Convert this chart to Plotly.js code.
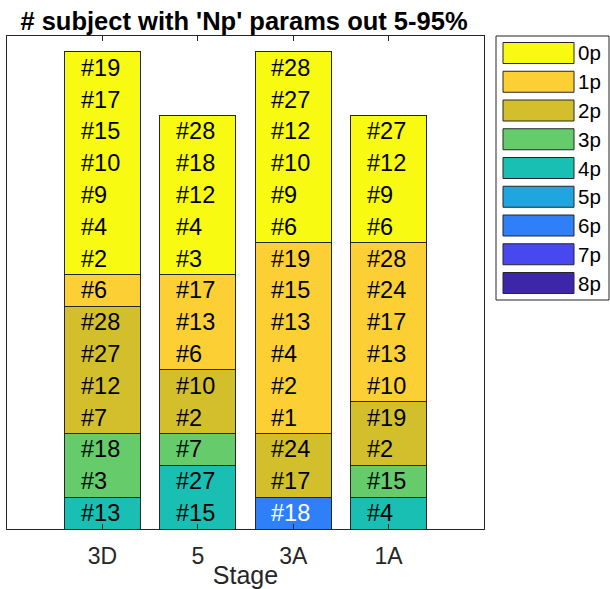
<!DOCTYPE html>
<html>
<head>
<meta charset="utf-8">
<script src="https://cdn.plot.ly/plotly-3.0.1.min.js"></script>
<style>html,body{margin:0;padding:0;background:#fff;}#chart{width:610px;height:589px;}</style>
</head>
<body>
<div id="chart"></div>
<script>
// ---- data ----
const categories = ['3D', '5', '3A', '1A'];
const levels = ['0p', '1p', '2p', '3p', '4p', '5p', '6p', '7p', '8p'];
const levelColors = ['#f9fa12', '#fccf35', '#d2bf2b', '#66cc6b', '#1abfb4', '#1fa6e0', '#2f7ff9', '#4848f0', '#3d27a8'];
// subject IDs per level, one list per category (3D, 5, 3A, 1A)
const subj0p = [[2, 4, 9, 10, 15, 17, 19], [3, 4, 12, 18, 28], [6, 9, 10, 12, 27, 28], [6, 9, 12, 27]];
const subj1p = [[6], [6, 13, 17], [1, 2, 4, 13, 15, 19], [10, 13, 17, 24, 28]];
const subj2p = [[7, 12, 27, 28], [2, 10], [17, 24], [2, 19]];
const subj3p = [[3, 18], [7], [], [15]];
const subj4p = [[13], [15, 27], [], [4]];
const subj5p = [[], [], [], []];
const subj6p = [[], [], [18], []];
const subj7p = [[], [], [], []];
const subj8p = [[], [], [], []];
const subjects = [subj0p, subj1p, subj2p, subj3p, subj4p, subj5p, subj6p, subj7p, subj8p];

// ---- layout constants ----
const FONT = 'Liberation Sans, Arial, Helvetica, sans-serif';
const W = 610, H = 589;
const M = {l: 7, r: 126, t: 36, b: 60};
const PW = W - M.l - M.r, PH = H - M.t - M.b;
const px2x = p => (p - M.l) / PW;
const py2y = p => (H - M.b - p) / PH;
const EDGE = '#262626';

const xs = categories.map((c, i) => i + 1);
const traces = [];
const annotations = [];
const base = categories.map(() => 0);

// stack from the highest level (bottom) to 0p (top)
for (let L = levels.length - 1; L >= 0; L--) {
  const counts = subjects[L].map(a => a.length);
  traces.push({
    type: 'bar', x: xs, y: counts, name: levels[L], width: 0.8,
    marker: {color: levelColors[L], line: {color: EDGE, width: 1}},
    showlegend: false, hoverinfo: 'skip'
  });
  subjects[L].forEach((ids, ci) => {
    ids.forEach((id, k) => {
      annotations.push({
        x: xs[ci] - 0.25, y: base[ci] + k + 0.5, xref: 'x', yref: 'y',
        text: '#' + id, showarrow: false, xanchor: 'left', yanchor: 'middle',
        font: {family: FONT, size: 23.5, color: L >= 6 ? '#ffffff' : '#000000'}
      });
    });
    base[ci] += ids.length;
  });
}

// custom legend (large swatches as in reference)
const shapes = [];
shapes.push({type: 'rect', xref: 'paper', yref: 'paper',
  x0: px2x(496), x1: px2x(609), y0: py2y(300), y1: py2y(36),
  line: {color: '#262626', width: 1}, fillcolor: '#ffffff'});
levels.forEach((lv, k) => {
  const cy = 53 + 28.75 * k;
  shapes.push({type: 'rect', xref: 'paper', yref: 'paper',
    x0: px2x(503), x1: px2x(574), y0: py2y(cy + 10.5), y1: py2y(cy - 10.5),
    line: {color: EDGE, width: 1}, fillcolor: levelColors[k]});
  annotations.push({xref: 'paper', yref: 'paper', x: px2x(576), y: py2y(cy),
    text: lv, showarrow: false, xanchor: 'left', yanchor: 'middle',
    font: {family: FONT, size: 20.5, color: '#000000'}});
});

const layout = {
  width: W, height: H,
  margin: M,
  paper_bgcolor: '#ffffff', plot_bgcolor: '#ffffff',
  barmode: 'stack',
  showlegend: false,
  font: {family: FONT, color: EDGE},
  title: {text: "<b># subject with 'Np' params out 5-95%</b>", x: px2x(244), xref: 'paper',
    y: 1 - 21 / H, yref: 'container', xanchor: 'center', yanchor: 'middle',
    font: {family: FONT, size: 25.5, color: '#000000'}},
  xaxis: {range: [0, 5], tickvals: xs, ticktext: categories,
    ticks: 'inside', ticklen: 5, tickcolor: EDGE, tickwidth: 1,
    showline: true, linecolor: EDGE, linewidth: 1, mirror: 'ticks',
    showgrid: false, zeroline: false,
    tickfont: {family: FONT, size: 23, color: EDGE},
    ticklabelstandoff: 6,
    title: {text: 'Stage', font: {family: FONT, size: 25, color: EDGE}, standoff: 0},
    fixedrange: true},
  yaxis: {range: [0, 15.5], showticklabels: false, ticks: '',
    showline: true, linecolor: EDGE, linewidth: 1, mirror: true,
    showgrid: false, zeroline: false, fixedrange: true},
  shapes: shapes,
  annotations: annotations
};

Plotly.newPlot('chart', traces, layout, {displayModeBar: false, staticPlot: true});
</script>
</body>
</html>
